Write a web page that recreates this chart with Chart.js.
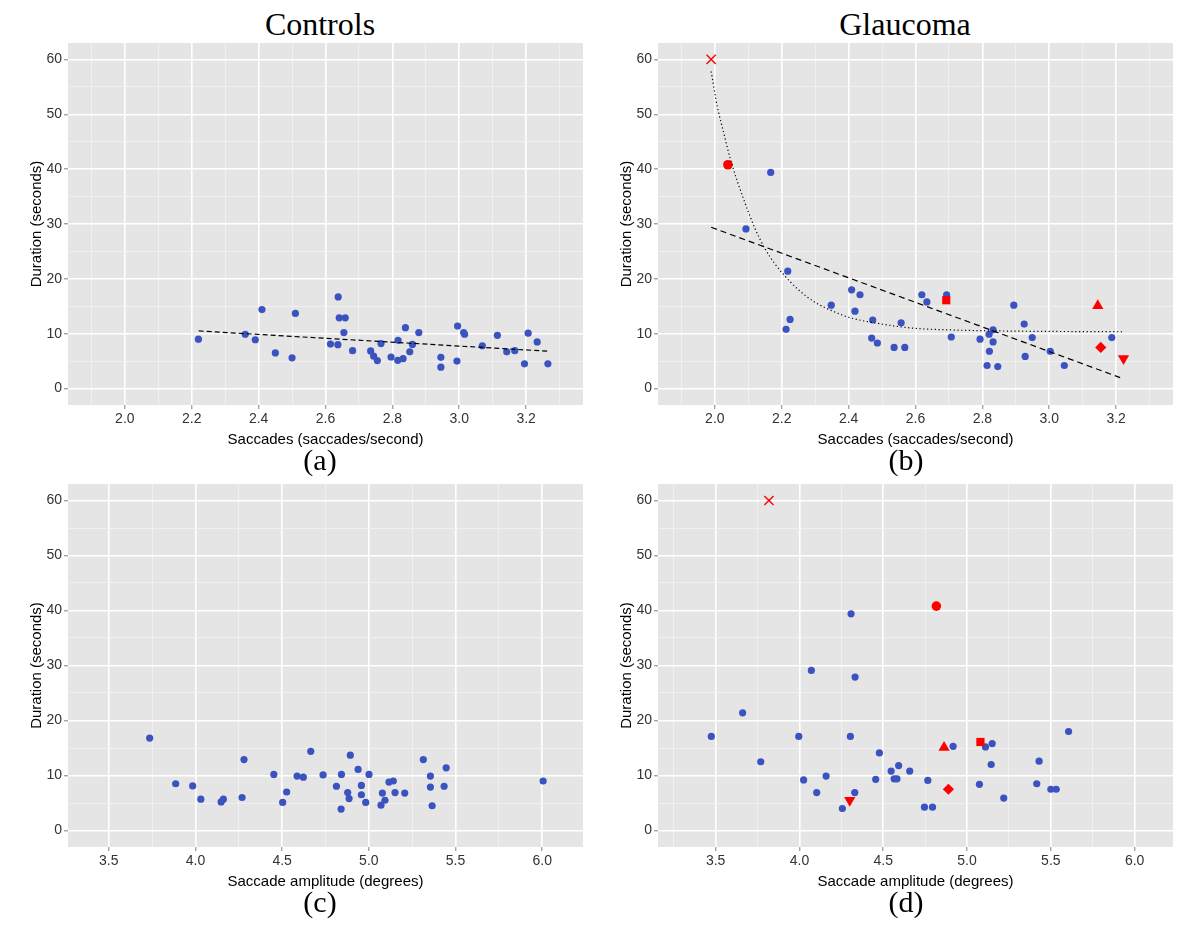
<!DOCTYPE html>
<html>
<head>
<meta charset="utf-8">
<script src="https://cdn.jsdelivr.net/npm/chart.js@4.4.1/dist/chart.umd.min.js"></script>
<style>
  body { margin: 0; background: #fff; width: 1200px; height: 925px; position: relative; overflow: hidden; }
  canvas { position: absolute; }
  .heading, .caption {
    position: absolute; transform: translateX(-50%); white-space: nowrap; line-height: 1;
    font-family: "Liberation Serif", "Times New Roman", serif; color: #000;
  }
  .heading { font-size: 32px; }
  .caption { font-size: 30px; }
</style>
</head>
<body>
<div class="heading" style="left:320px; top:8px">Controls</div>
<div class="heading" style="left:905px; top:8px">Glaucoma</div>
<canvas id="panelA" width="600" height="425" style="left:0; top:35.3px"></canvas>
<canvas id="panelB" width="600" height="425" style="left:590px; top:35.3px"></canvas>
<canvas id="panelC" width="600" height="426" style="left:0; top:475.8px"></canvas>
<canvas id="panelD" width="600" height="426" style="left:590px; top:475.8px"></canvas>
<div class="caption" style="left:320px; top:445px">(a)</div>
<div class="caption" style="left:906px; top:445px">(b)</div>
<div class="caption" style="left:320px; top:887px">(c)</div>
<div class="caption" style="left:906px; top:887px">(d)</div>

<script>
// Controls, saccade rate vs duration (a)
const controlsRate = [2.22, 2.36, 2.39, 2.41, 2.45, 2.50, 2.51, 2.615, 2.637, 2.638, 2.641, 2.659, 2.655, 2.681,
    2.735, 2.744, 2.755, 2.766, 2.796, 2.816, 2.817, 2.832, 2.839, 2.852, 2.860, 2.879, 2.945, 2.945,
    2.993, 2.995, 3.013, 3.016, 3.069, 3.114, 3.142, 3.166, 3.195, 3.206, 3.233, 3.265];
const controlsRateDuration = [9.0, 9.9, 8.9, 14.4, 6.5, 5.6, 13.7, 8.1, 8.0, 16.7, 12.9, 12.9, 10.2, 6.9,
    6.85, 5.9, 5.1, 8.2, 5.75, 5.15, 8.8, 5.45, 11.1, 6.7, 8.05, 10.2, 5.7, 3.9,
    5.0, 11.4, 10.2, 9.9, 7.8, 9.7, 6.7, 6.9, 4.5, 10.1, 8.5, 4.5];

// Controls, saccade amplitude vs duration (c)
const controlsAmp = [3.736, 3.886, 3.984, 4.031, 4.148, 4.161, 4.269, 4.280, 4.452, 4.503, 4.526, 4.586, 4.622,
    4.665, 4.736, 4.813, 4.842, 4.840, 4.878, 4.886, 4.893, 4.938, 4.957, 4.957, 4.982, 5.001, 5.070,
    5.078, 5.093, 5.116, 5.141, 5.151, 5.207, 5.314, 5.355, 5.355, 5.365, 5.434, 5.446, 6.005];
const controlsAmpDuration = [16.8, 8.5, 8.1, 5.7, 5.2, 5.7, 6.0, 12.9, 10.2, 5.1, 7.0, 9.9, 9.7,
    14.4, 10.1, 8.05, 10.2, 3.9, 6.9, 5.8, 13.7, 11.1, 8.2, 6.5, 5.1, 10.2, 4.6,
    6.8, 5.5, 8.8, 9.0, 6.9, 6.8, 12.9, 9.9, 7.9, 4.5, 8.05, 11.4, 9.0];

// Glaucoma, saccade rate vs duration (b)
const glaucomaRate = [2.167, 2.093, 2.218, 2.225, 2.213, 2.348, 2.409, 2.434, 2.419, 2.472, 2.469, 2.486, 2.536,
    2.568, 2.557, 2.619, 2.634, 2.693, 2.707, 2.793, 2.814, 2.821, 2.820, 2.832, 2.832, 2.846, 2.894,
    2.925, 2.928, 2.949, 3.003, 3.045, 3.187];
const glaucomaRateDuration = [39.4, 29.1, 21.4, 12.6, 10.8, 15.2, 18.0, 17.1, 14.1, 12.5, 9.2, 8.3, 7.5,
    7.5, 12.0, 17.1, 15.8, 17.1, 9.4, 9.0, 4.2, 6.8, 9.9, 10.7, 8.5, 4.0, 15.2,
    11.75, 5.85, 9.3, 6.8, 4.2, 9.3];

// Glaucoma, saccade amplitude vs duration (d)
const glaucomaAmp = [4.308, 4.071, 4.332, 3.661, 3.474, 3.996, 4.304, 3.769, 4.477, 4.025, 4.159, 4.103, 4.330,
    4.256, 4.455, 4.547, 4.565, 4.582, 4.592, 4.658, 5.606, 5.150, 5.110, 4.917, 4.766, 4.746, 4.794,
    5.074, 5.144, 5.219, 5.430, 5.416, 5.500, 5.532];
const glaucomaAmpDuration = [39.4, 29.1, 27.9, 21.4, 17.1, 17.1, 17.1, 12.5, 14.1, 9.2, 9.9, 6.9, 6.9,
    4.0, 9.3, 10.8, 9.4, 9.4, 11.8, 10.8, 18.0, 15.8, 15.2, 15.3, 9.1, 4.25, 4.25,
    8.4, 12.0, 5.9, 12.6, 8.5, 7.5, 7.5];

// six highlighted glaucoma patients (red markers), same order in (b) and (d)
const highlightRate = [1.989, 2.039, 2.692, 3.145, 3.154, 3.222];
const highlightAmp = [3.818, 4.817, 5.080, 4.863, 4.889, 4.300];
const highlightDuration = [60.0, 40.8, 16.1, 15.1, 7.5, 5.5];

// fitted lines
const controlsFitRate = [2.221, 3.267];
const controlsFitDuration = [10.5, 6.8];
const glaucomaFitRate = [1.989, 3.212];
const glaucomaFitDuration = [29.4, 2.0];
const glaucomaCurveRate = [1.989, 2.007, 2.025, 2.047, 2.088, 2.12, 2.148, 2.18, 2.207, 2.25, 2.30, 2.346,
    2.40, 2.485, 2.594, 2.70, 2.85, 3.222];
const glaucomaCurveDuration = [57.8, 51.5, 47.0, 41.7, 34.2, 29.2, 25.7, 22.7, 20.7, 18.0, 15.7, 14.3,
    13.0, 11.9, 11.0, 10.7, 10.5, 10.35];

// ticks
const rateTicks = [2.0, 2.2, 2.4, 2.6, 2.8, 3.0, 3.2];
const rateMinor = [1.9, 2.1, 2.3, 2.5, 2.7, 2.9, 3.1, 3.3];
const ampTicks = [3.5, 4.0, 4.5, 5.0, 5.5, 6.0];
const ampMinor = [3.25, 3.75, 4.25, 4.75, 5.25, 5.75, 6.25];
const durationTicks = [0, 10, 20, 30, 40, 50, 60];
const durationMinor = [5, 15, 25, 35, 45, 55];

const sansFont = '"Liberation Sans", Arial, sans-serif';
const blue = '#3B53C0';
const red = '#FF0000';

const zip = (xs, ys) => xs.map((x, i) => ({ x: x, y: ys[i] }));

// grey panel background like ggplot
const panelBackground = {
    id: 'panelBackground',
    beforeDraw(chart) {
        const a = chart.chartArea;
        const ctx = chart.ctx;
        ctx.save();
        ctx.fillStyle = '#E5E5E5';
        ctx.fillRect(a.left, a.top, a.right - a.left, a.bottom - a.top);
        ctx.restore();
    }
};

function buildTicks(major, minor) {
    return axis => {
        axis.ticks = major.map(v => ({ value: v, isMinor: false }))
            .concat(minor.map(v => ({ value: v, isMinor: true })))
            .filter(t => t.value >= axis.min && t.value <= axis.max)
            .sort((a, b) => a.value - b.value);
    };
}

function axisOptions(min, max, major, minor, decimals, title, isX) {
    return {
        type: 'linear',
        min: min,
        max: max,
        afterBuildTicks: buildTicks(major, minor),
        afterFit: axis => {
            if (isX) axis.height = 55; else axis.width = 68;
            // keep the plot box where the layout padding puts it
            axis.paddingTop = 0;
            axis.paddingBottom = 0;
            axis.paddingLeft = 0;
            axis.paddingRight = 0;
        },
        border: { display: false },
        grid: {
            color: c => (c.tick && c.tick.isMinor) ? '#F2F2F2' : '#FFFFFF',
            lineWidth: c => (c.tick && c.tick.isMinor) ? 0.8 : 1.6,
            tickColor: c => (c.tick && c.tick.isMinor) ? 'rgba(0,0,0,0)' : '#7F7F7F',
            tickLength: 4,
            tickWidth: 1
        },
        ticks: {
            autoSkip: false,
            maxRotation: 0,
            minRotation: 0,
            padding: 2,
            color: '#333',
            font: { family: sansFont, size: 14 },
            callback: (v, i, ticks) => ticks[i].isMinor ? '' : v.toFixed(decimals)
        },
        title: {
            display: true,
            text: title,
            color: '#000',
            font: { family: sansFont, size: 15 },
            padding: isX ? { top: 0, bottom: 11 } : { top: 28, bottom: 0 }
        }
    };
}

function drawPanel(id, xMin, xMax, xMajor, xMinor, xTitle, datasets) {
    return new Chart(document.getElementById(id), {
        type: 'scatter',
        data: { datasets: datasets },
        options: {
            responsive: false,
            animation: false,
            // top padding is larger than any marker overflow so every panel lines up
            layout: { padding: { top: 8, right: 17, bottom: 0, left: 0 } },
            plugins: { legend: { display: false }, tooltip: { enabled: false } },
            scales: {
                x: axisOptions(xMin, xMax, xMajor, xMinor, 1, xTitle, true),
                y: axisOptions(-3, 63, durationTicks, durationMinor, 0, 'Duration (seconds)', false)
            }
        },
        plugins: [panelBackground]
    });
}

function pointsSet(xs, ys) {
    return { data: zip(xs, ys), pointRadius: 3.6, pointBackgroundColor: blue, pointBorderColor: blue, pointBorderWidth: 0 };
}

function highlightSet(xs) {
    return {
        data: zip(xs, highlightDuration),
        pointStyle: ['crossRot', 'circle', 'rect', 'triangle', 'rectRot', 'triangle'],
        pointRotation: [0, 0, 0, 0, 0, 180],
        pointRadius: [6.5, 4.8, 5.8, 6.5, 5.6, 6.5],
        pointBackgroundColor: red,
        pointBorderColor: red,
        pointBorderWidth: [1.4, 0, 0, 0, 0, 0]
    };
}

function lineSet(xs, ys, dash, curved) {
    return {
        data: zip(xs, ys),
        showLine: true,
        pointRadius: 0,
        borderColor: '#000',
        borderWidth: 1.2,
        borderDash: dash,
        cubicInterpolationMode: curved ? 'monotone' : 'default',
        fill: false
    };
}

const rateTitle = 'Saccades (saccades/second)';
const ampTitle = 'Saccade amplitude (degrees)';

drawPanel('panelA', 1.83, 3.37, rateTicks, rateMinor, rateTitle, [
    lineSet(controlsFitRate, controlsFitDuration, [5, 3], false),
    pointsSet(controlsRate, controlsRateDuration)
]);

drawPanel('panelB', 1.83, 3.37, rateTicks, rateMinor, rateTitle, [
    lineSet(glaucomaFitRate, glaucomaFitDuration, [6, 4], false),
    lineSet(glaucomaCurveRate, glaucomaCurveDuration, [1.2, 2.6], true),
    highlightSet(highlightRate),
    pointsSet(glaucomaRate, glaucomaRateDuration)
]);

drawPanel('panelC', 3.265, 6.235, ampTicks, ampMinor, ampTitle, [
    pointsSet(controlsAmp, controlsAmpDuration)
]);

drawPanel('panelD', 3.156, 6.229, ampTicks, ampMinor, ampTitle, [
    highlightSet(highlightAmp),
    pointsSet(glaucomaAmp, glaucomaAmpDuration)
]);
</script>
</body>
</html>
